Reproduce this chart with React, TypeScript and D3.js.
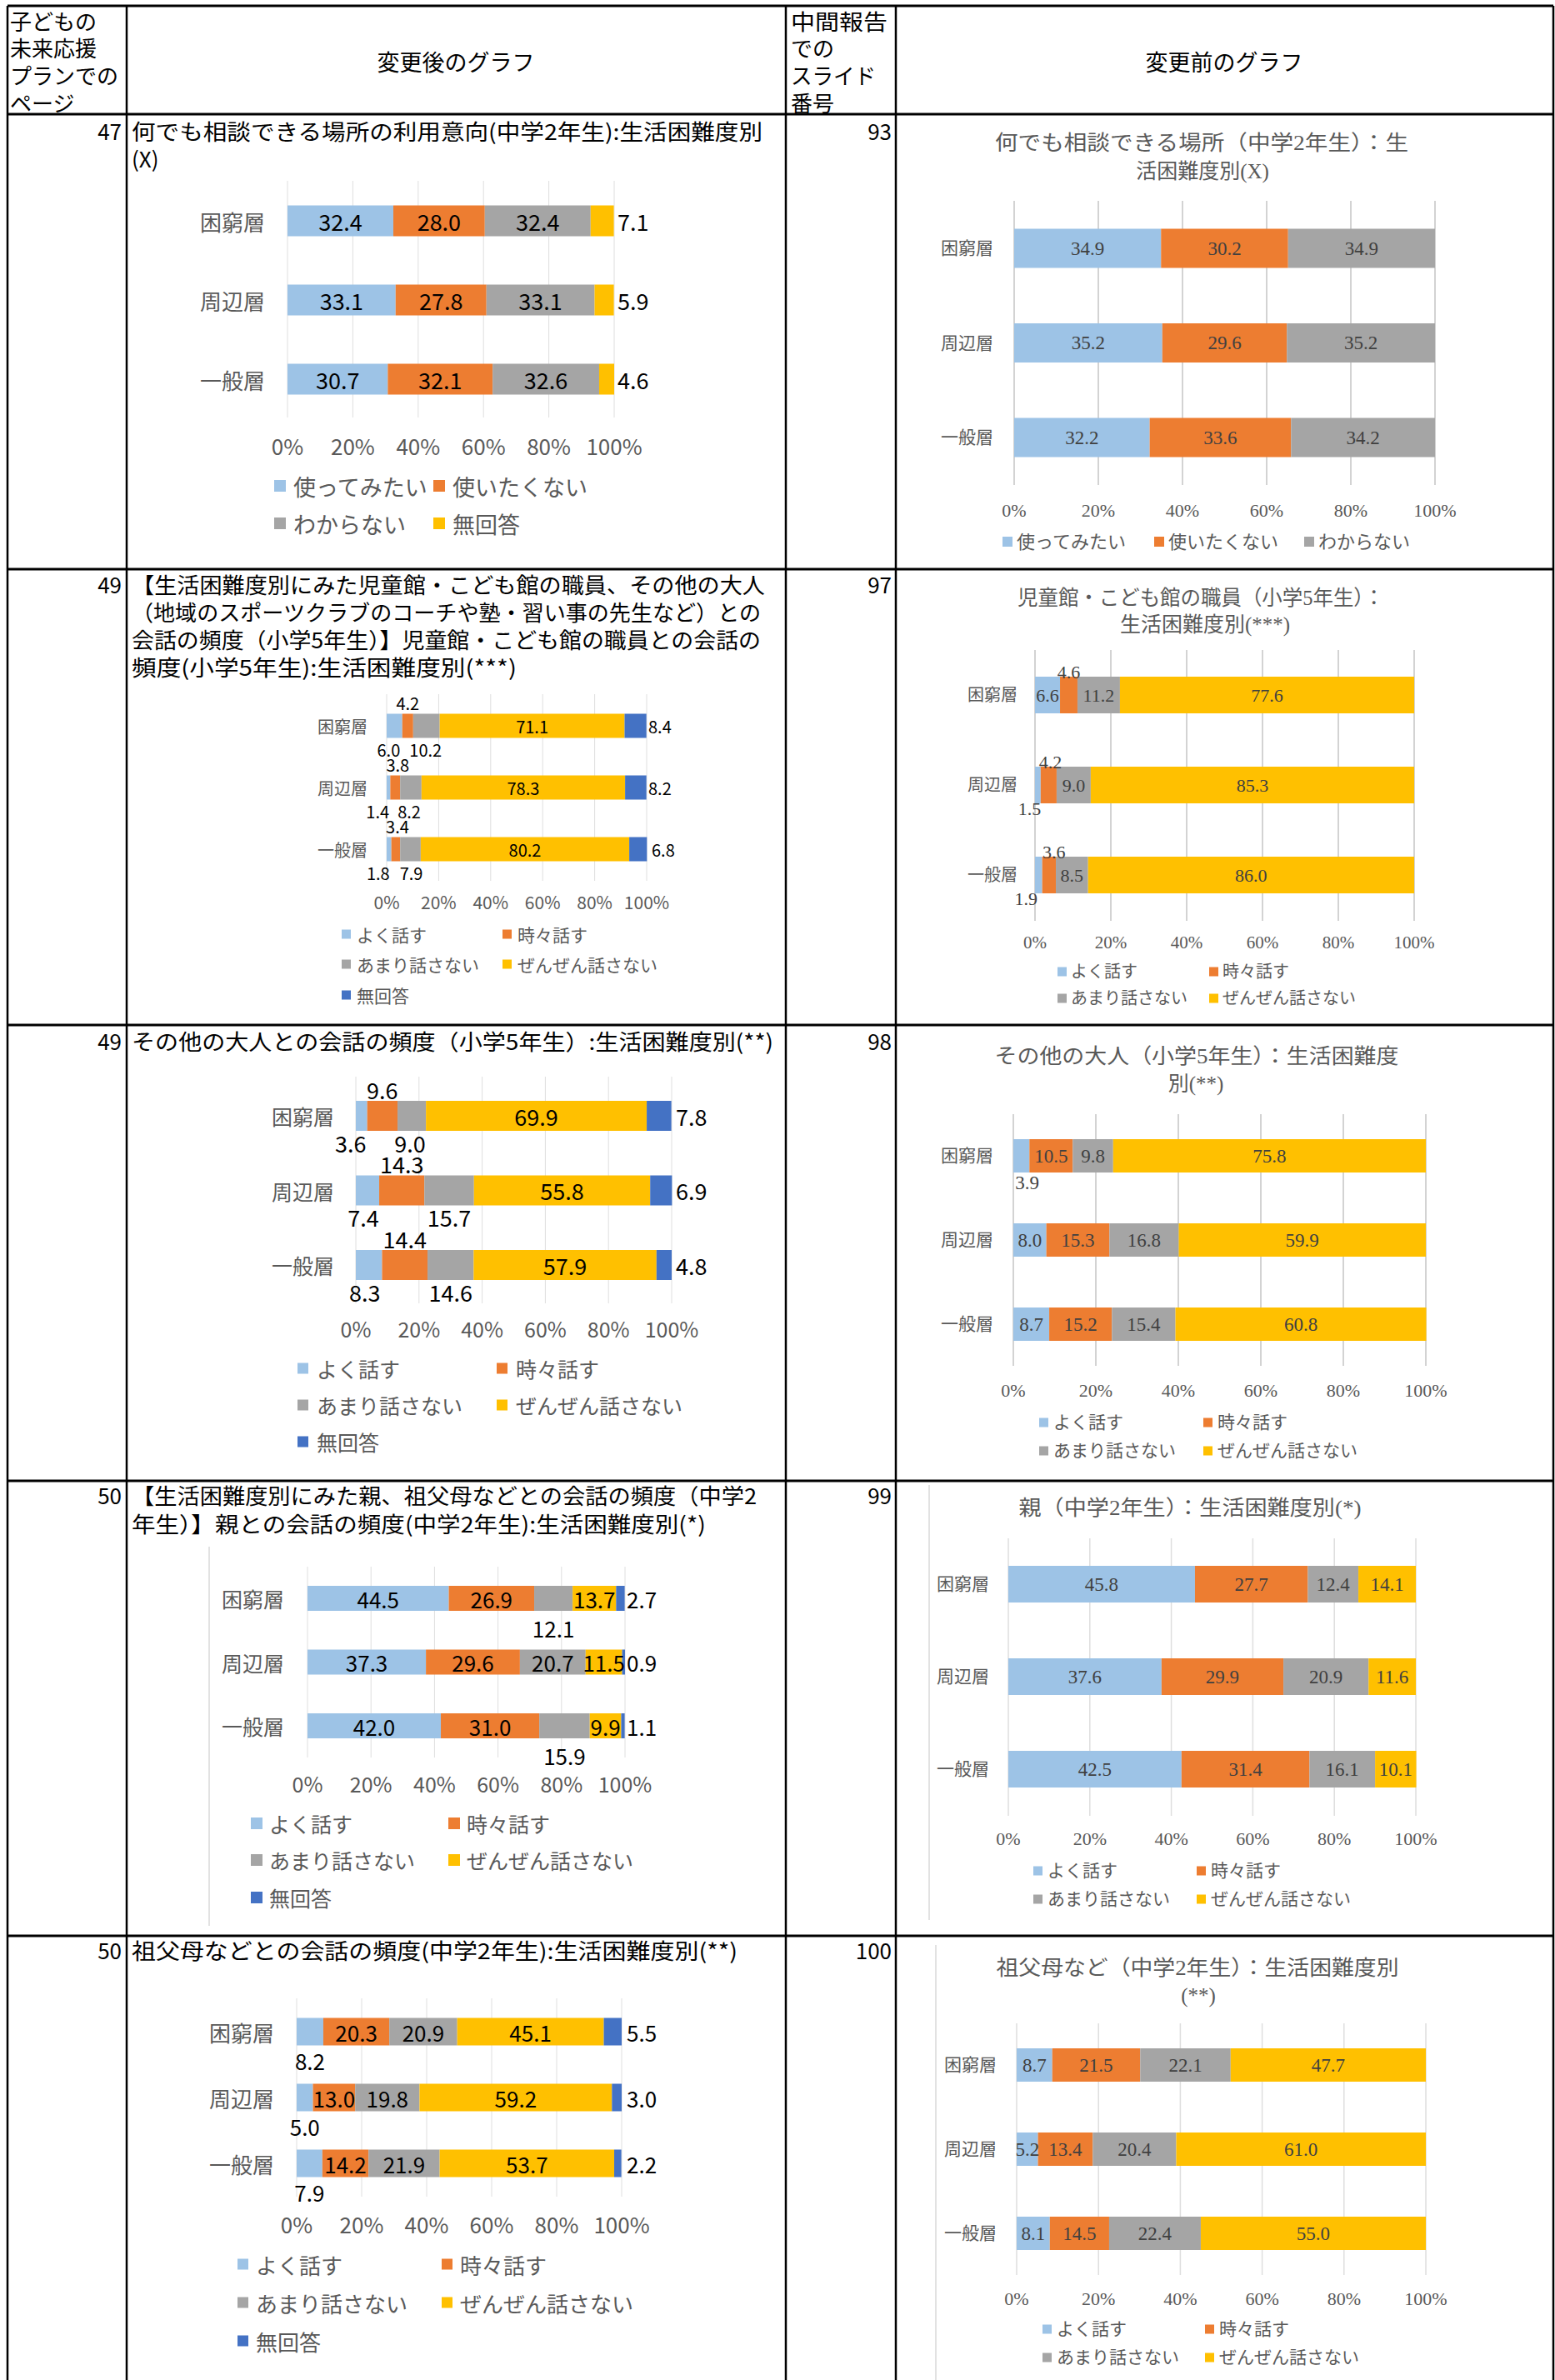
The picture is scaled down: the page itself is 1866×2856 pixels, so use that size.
import React from 'react';
import * as d3 from 'd3';

const SANS = '"Noto Sans CJK JP", "Noto Sans", sans-serif';
const SERIF = '"Liberation Serif", "Noto Sans CJK JP", serif';

// data
const categories = ['困窮層', '周辺層', '一般層'];
const useSeries = ['使ってみたい', '使いたくない', 'わからない', '無回答'];
const useSeriesOld = ['使ってみたい', '使いたくない', 'わからない'];
const talkSeries = ['よく話す', '時々話す', 'あまり話さない', 'ぜんぜん話さない', '無回答'];
const talkSeriesOld = ['よく話す', '時々話す', 'あまり話さない', 'ぜんぜん話さない'];
const tickValues = [0, 20, 40, 60, 80, 100];

const placeAfter = [[32.4, 28.0, 32.4, 7.1], [33.1, 27.8, 33.1, 5.9], [30.7, 32.1, 32.6, 4.6]];
const placeBefore = [[34.9, 30.2, 34.9], [35.2, 29.6, 35.2], [32.2, 33.6, 34.2]];
const staffAfter = [[6.0, 4.2, 10.2, 71.1, 8.4], [1.4, 3.8, 8.2, 78.3, 8.2], [1.8, 3.4, 7.9, 80.2, 6.8]];
const staffBefore = [[6.6, 4.6, 11.2, 77.6], [1.5, 4.2, 9.0, 85.3], [1.9, 3.6, 8.5, 86.0]];
const adultAfter = [[3.6, 9.6, 9.0, 69.9, 7.8], [7.4, 14.3, 15.7, 55.8, 6.9], [8.3, 14.4, 14.6, 57.9, 4.8]];
const adultBefore = [[3.9, 10.5, 9.8, 75.8], [8.0, 15.3, 16.8, 59.9], [8.7, 15.2, 15.4, 60.8]];
const parentAfter = [[44.5, 26.9, 12.1, 13.7, 2.7], [37.3, 29.6, 20.7, 11.5, 0.9], [42.0, 31.0, 15.9, 9.9, 1.1]];
const parentBefore = [[45.8, 27.7, 12.4, 14.1], [37.6, 29.9, 20.9, 11.6], [42.5, 31.4, 16.1, 10.1]];
const grandAfter = [[8.2, 20.3, 20.9, 45.1, 5.5], [5.0, 13.0, 19.8, 59.2, 3.0], [7.9, 14.2, 21.9, 53.7, 2.2]];
const grandBefore = [[8.7, 21.5, 22.1, 47.7], [5.2, 13.4, 20.4, 61.0], [8.1, 14.5, 22.4, 55.0]];

const colors = ['#9DC3E6', '#ED7D31', '#A5A5A5', '#FFC000', '#4472C4'];

// layout of the table
const rowLines = [7, 137, 683, 1230, 1777, 2323];
const colLines = [9, 152, 943, 1075, 1864];

const headerLeft = ['子どもの', '未来応援', 'プランでの', 'ページ'];
const headerMid = ['中間報告', 'での', 'スライド', '番号'];
const headerMidLen = [116, 0, 102, 0];
const headerLineY = [24, 56, 89, 122];

const pageRows = [
  { y: 156, left: '47', right: '93' },
  { y: 700, left: '49', right: '97' },
  { y: 1248, left: '49', right: '98' },
  { y: 1793, left: '50', right: '99' },
  { y: 2339, left: '50', right: '100' },
];

const leftTitles = [
  { y: 156, t: '何でも相談できる場所の利用意向(中学2年生):生活困難度別', len: 757 },
  { y: 189, t: '(X)' },
  { y: 700, t: '【生活困難度別にみた児童館・こども館の職員、その他の大人', len: 760 },
  { y: 733, t: '（地域のスポーツクラブのコーチや塾・習い事の先生など）との', len: 755 },
  { y: 766, t: '会話の頻度（小学5年生）】児童館・こども館の職員との会話の', len: 755 },
  { y: 799, t: '頻度(小学5年生):生活困難度別(***)', len: 462 },
  { y: 1248, t: 'その他の大人との会話の頻度（小学5年生）:生活困難度別(**)', len: 770 },
  { y: 1793, t: '【生活困難度別にみた親、祖父母などとの会話の頻度（中学2', len: 750 },
  { y: 1827, t: '年生）】親との会話の頻度(中学2年生):生活困難度別(*)', len: 689 },
  { y: 2339, t: '祖父母などとの会話の頻度(中学2年生):生活困難度別(**)', len: 727 },
];

const rightTitles = [
  { x: 1442, y: 171, t: '何でも相談できる場所（中学2年生）：生', len: 496 },
  { x: 1443, y: 205, t: '活困難度別(X)' },
  { x: 1441, y: 717, t: '児童館・こども館の職員（小学5年生）：', len: 440 },
  { x: 1446, y: 749, t: '生活困難度別(***)' },
  { x: 1436, y: 1267, t: 'その他の大人（小学5年生）：生活困難度', len: 485 },
  { x: 1435, y: 1300, t: '別(**)' },
  { x: 1428, y: 1809, t: '親（中学2年生）：生活困難度別(*)', len: 411 },
  { x: 1437, y: 2361, t: '祖父母など（中学2年生）：生活困難度別', len: 483 },
  { x: 1438, y: 2394, t: '(**)' },
];

const gridDark = '#c4c4c4';
const gridLight = '#dedede';

const charts = [
  {
    values: placeAfter, series: useSeries, serif: false,
    x0: 345, x1: 737, yFirst: 265, yLast: 455, barH: 37,
    gridTop: 217, gridBottom: 501, grid: gridLight, axisY: 534, catRight: 318,
    fData: 27, fAxis: 26, fCat: 26, fLegend: 27,
    legend: { xs: [329, 520], ys: [583, 628], sq: 14, gap: 9 },
    pos: [['c', 'c', 'c', 'r'], ['c', 'c', 'c', 'r'], ['c', 'c', 'c', 'r']], rGap: 4, off: 0,
  },
  {
    values: placeBefore, series: useSeriesOld, serif: true,
    x0: 1217, x1: 1722, yFirst: 298, yLast: 525, barH: 47,
    gridTop: 241, gridBottom: 582, grid: gridDark, axisY: 612, catRight: 1192,
    fData: 23, fAxis: 22, fCat: 21, fLegend: 22,
    legend: { xs: [1203, 1385, 1565], ys: [650], sq: 12, gap: 5 },
  },
  {
    values: staffAfter, series: talkSeries, serif: false,
    x0: 464, x1: 776, yFirst: 871, yLast: 1019, barH: 29,
    gridTop: 833, gridBottom: 1057, grid: gridLight, axisY: 1082, catRight: 441,
    fData: 20, fAxis: 21, fCat: 20, fLegend: 21,
    legend: { xs: [410, 603], ys: [1121, 1157, 1194], sq: 11, gap: 7 },
    pos: [['b', 'a', 'b', 'c', 'r'], ['b', 'a', 'b', 'c', 'r'], ['b', 'a', 'b', 'c', 'r']],
    dx: [[-7, 0, -1, 0, 0], [-13, 3, -2, 0, 0], [-13, 2, 1, 0, 4]], off: 28, rGap: 2,
  },
  {
    values: staffBefore, series: talkSeriesOld, serif: true,
    x0: 1242, x1: 1697, yFirst: 834, yLast: 1050, barH: 44,
    gridTop: 780, gridBottom: 1105, grid: gridDark, axisY: 1131, catRight: 1221,
    fData: 22, fAxis: 21, fCat: 20, fLegend: 20,
    legend: { xs: [1269, 1451], ys: [1166, 1198], sq: 11, gap: 5 },
    pos: [['c', 'a', 'c', 'c'], ['b', 'a', 'c', 'c'], ['b', 'a', 'c', 'c']],
    dx: [[0, 0, 0, 0], [-10, 2, 0, 0], [-15, 6, 0, 0]], off: 28,
  },
  {
    values: adultAfter, series: talkSeries, serif: false,
    x0: 427, x1: 806, yFirst: 1339, yLast: 1518, barH: 36,
    gridTop: 1292, gridBottom: 1564, grid: gridLight, axisY: 1594, catRight: 401,
    fData: 27, fAxis: 25, fCat: 25, fLegend: 25,
    legend: { xs: [357, 596], ys: [1642, 1686, 1730], sq: 13, gap: 10 },
    pos: [['b', 'a', 'b', 'c', 'r'], ['b', 'a', 'b', 'c', 'r'], ['b', 'a', 'b', 'c', 'r']],
    dx: [[-13, 0, -2, 0, 0], [-5, 0, 0, 0, 0], [-5, 0, 0, 0, 0]], off: 32, rGap: 5,
  },
  {
    values: adultBefore, series: talkSeriesOld, serif: true,
    x0: 1216, x1: 1711, yFirst: 1387, yLast: 1589, barH: 40,
    gridTop: 1337, gridBottom: 1639, grid: gridDark, axisY: 1668, catRight: 1192,
    fData: 23, fAxis: 22, fCat: 21, fLegend: 21,
    legend: { xs: [1247, 1444], ys: [1707, 1741], sq: 11, gap: 6 },
    pos: [['b', 'c', 'c', 'c'], ['c', 'c', 'c', 'c'], ['c', 'c', 'c', 'c']],
    dx: [[7, 0, 0, 0], [0, 0, 0, 0], [0, 0, 0, 0]], off: 32,
  },
  {
    values: parentAfter, series: talkSeries, serif: false,
    x0: 369, x1: 750, yFirst: 1918, yLast: 2071, barH: 30,
    gridTop: 1880, gridBottom: 2109, grid: gridLight, axisY: 2140, catRight: 341,
    fData: 26, fAxis: 25, fCat: 25, fLegend: 25,
    legend: { xs: [301, 538], ys: [2188, 2232, 2277], sq: 14, gap: 8 },
    pos: [['c', 'c', 'b', 'c', 'r'], ['c', 'c', 'c', 'c', 'r'], ['c', 'c', 'b', 'c', 'r']],
    off: 35, rGap: 2, frame: [251, 1856, 2311],
  },
  {
    values: parentBefore, series: talkSeriesOld, serif: true,
    x0: 1210, x1: 1699, yFirst: 1901, yLast: 2123, barH: 44,
    gridTop: 1846, gridBottom: 2179, grid: gridLight, axisY: 2206, catRight: 1187,
    fData: 23, fAxis: 22, fCat: 21, fLegend: 21,
    legend: { xs: [1240, 1436], ys: [2245, 2279], sq: 11, gap: 6 },
    frame: [1115, 1782, 2304],
  },
  {
    values: grandAfter, series: talkSeries, serif: false,
    x0: 356, x1: 746, yFirst: 2438, yLast: 2596, barH: 33,
    gridTop: 2398, gridBottom: 2636, grid: gridLight, axisY: 2668, catRight: 329,
    fData: 26, fAxis: 26, fCat: 26, fLegend: 26,
    legend: { xs: [285, 530], ys: [2717, 2763, 2809], sq: 13, gap: 9 },
    pos: [['b', 'c', 'c', 'c', 'r'], ['b', 'c', 'c', 'c', 'r'], ['b', 'c', 'c', 'c', 'r']],
    off: 34, rGap: 6,
  },
  {
    values: grandBefore, series: talkSeriesOld, serif: true,
    x0: 1220, x1: 1711, yFirst: 2478, yLast: 2680, barH: 40,
    gridTop: 2428, gridBottom: 2730, grid: gridLight, axisY: 2758, catRight: 1196,
    fData: 23, fAxis: 22, fCat: 21, fLegend: 21,
    legend: { xs: [1251, 1446], ys: [2795, 2829], sq: 11, gap: 6 },
    frame: [1123, 2334, 2856],
  },
];

const fmt = d3.format('.1f');

function StackedChart({ c }: { c: any }) {
  const font = c.serif ? SERIF : SANS;
  const textColor = '#595959';
  const dataColor = c.serif ? '#404040' : '#000000';
  const x = d3.scaleLinear().domain([0, 100]).range([c.x0, c.x1]);
  const y = d3.scalePoint().domain(categories).range([c.yFirst, c.yLast]);

  // one row per category, stacked across the series
  const rows = categories.map((cat, i) => {
    const r: any = { cat };
    c.series.forEach((s: string, j: number) => { r[s] = c.values[i][j]; });
    return r;
  });
  const layers = d3.stack().keys(c.series)(rows);
  const ncols = c.legend.xs.length;

  return (
    <g fontFamily={font}>
      {c.frame && (
        <line x1={c.frame[0]} x2={c.frame[0]} y1={c.frame[1]} y2={c.frame[2]} stroke="#d9d9d9" strokeWidth={1.5} />
      )}
      {tickValues.map((t) => (
        <line key={t} x1={x(t)} x2={x(t)} y1={c.gridTop} y2={c.gridBottom}
          stroke={c.grid} strokeWidth={c.serif ? 1.5 : 1} />
      ))}
      {layers.map((layer, j) => (
        <g key={layer.key} fill={colors[j]}>
          {layer.map((d: any, i: number) => (
            <rect key={i} x={x(d[0])} width={x(d[1]) - x(d[0])}
              y={(y(categories[i]) as number) - c.barH / 2} height={c.barH} />
          ))}
        </g>
      ))}
      {layers.map((layer, j) => layer.map((d: any, i: number) => {
        const p = c.pos ? c.pos[i][j] : 'c';
        const dx = c.dx ? c.dx[i][j] : 0;
        const cy = y(categories[i]) as number;
        let tx = (x(d[0]) + x(d[1])) / 2 + dx;
        let ty = cy;
        let anchor = 'middle';
        if (p === 'r') { tx = c.x1 + c.rGap + dx; anchor = 'start'; }
        if (p === 'a') ty = cy - c.off;
        if (p === 'b') ty = cy + c.off;
        return (
          <text key={`${j}-${i}`} x={tx} y={ty} textAnchor={anchor} dominantBaseline="central"
            fontSize={c.fData} fill={dataColor}>{fmt(c.values[i][j])}</text>
        );
      }))}
      {categories.map((cat) => (
        <text key={cat} x={c.catRight} y={y(cat)} textAnchor="end" dominantBaseline="central"
          fontSize={c.fCat} fill={textColor}>{cat}</text>
      ))}
      {tickValues.map((t) => (
        <text key={t} x={x(t)} y={c.axisY} textAnchor="middle" dominantBaseline="central"
          fontSize={c.fAxis} fill={textColor}>{`${t}%`}</text>
      ))}
      {c.series.map((s: string, j: number) => {
        const lx = c.legend.xs[j % ncols];
        const ly = c.legend.ys[Math.floor(j / ncols)];
        return (
          <g key={s}>
            <rect x={lx} y={ly - c.legend.sq / 2} width={c.legend.sq} height={c.legend.sq} fill={colors[j]} />
            <text x={lx + c.legend.sq + c.legend.gap} y={ly} dominantBaseline="central"
              fontSize={c.fLegend} fill={textColor}>{s}</text>
          </g>
        );
      })}
    </g>
  );
}

export default function App() {
  return (
    <svg width={1866} height={2856} style={{ position: 'absolute', left: 0, top: 0, background: '#fff' }}>
      <rect width={1866} height={2856} fill="#fff" />
      {/* table lines */}
      {rowLines.map((ly) => (
        <line key={ly} x1={colLines[0]} x2={colLines[4]} y1={ly} y2={ly} stroke="#000" strokeWidth={3} />
      ))}
      {colLines.map((lx) => (
        <line key={lx} x1={lx} x2={lx} y1={rowLines[0]} y2={2856} stroke="#000" strokeWidth={2.5} />
      ))}

      {/* header and page numbers */}
      <g fontFamily={SANS} fontSize={26} fill="#000">
        {headerLeft.map((t, i) => (
          <text key={t} x={12} y={headerLineY[i]} dominantBaseline="central">{t}</text>
        ))}
        {headerMid.map((t, i) => (
          <text key={t} x={949} y={headerLineY[i]} dominantBaseline="central"
            textLength={headerMidLen[i] || undefined}
            lengthAdjust={headerMidLen[i] ? 'spacingAndGlyphs' : undefined}>{t}</text>
        ))}
        <text x={547} y={73} textAnchor="middle" dominantBaseline="central" fontSize={27}>変更後のグラフ</text>
        <text x={1469} y={73} textAnchor="middle" dominantBaseline="central" fontSize={27}>変更前のグラフ</text>
        {pageRows.map((r) => (
          <g key={r.y}>
            <text x={146} y={r.y} textAnchor="end" dominantBaseline="central">{r.left}</text>
            <text x={1070} y={r.y} textAnchor="end" dominantBaseline="central">{r.right}</text>
          </g>
        ))}
        {leftTitles.map((r) => (
          <text key={r.y} x={158} y={r.y} dominantBaseline="central"
            textLength={r.len} lengthAdjust={r.len ? 'spacingAndGlyphs' : undefined}>{r.t}</text>
        ))}
      </g>
      <g fontFamily={SERIF} fontSize={25} fill="#595959">
        {rightTitles.map((r) => (
          <text key={r.y} x={r.x} y={r.y} textAnchor="middle" dominantBaseline="central"
            textLength={r.len} lengthAdjust={r.len ? 'spacingAndGlyphs' : undefined}>{r.t}</text>
        ))}
      </g>

      {charts.map((c, i) => <StackedChart key={i} c={c} />)}
    </svg>
  );
}
